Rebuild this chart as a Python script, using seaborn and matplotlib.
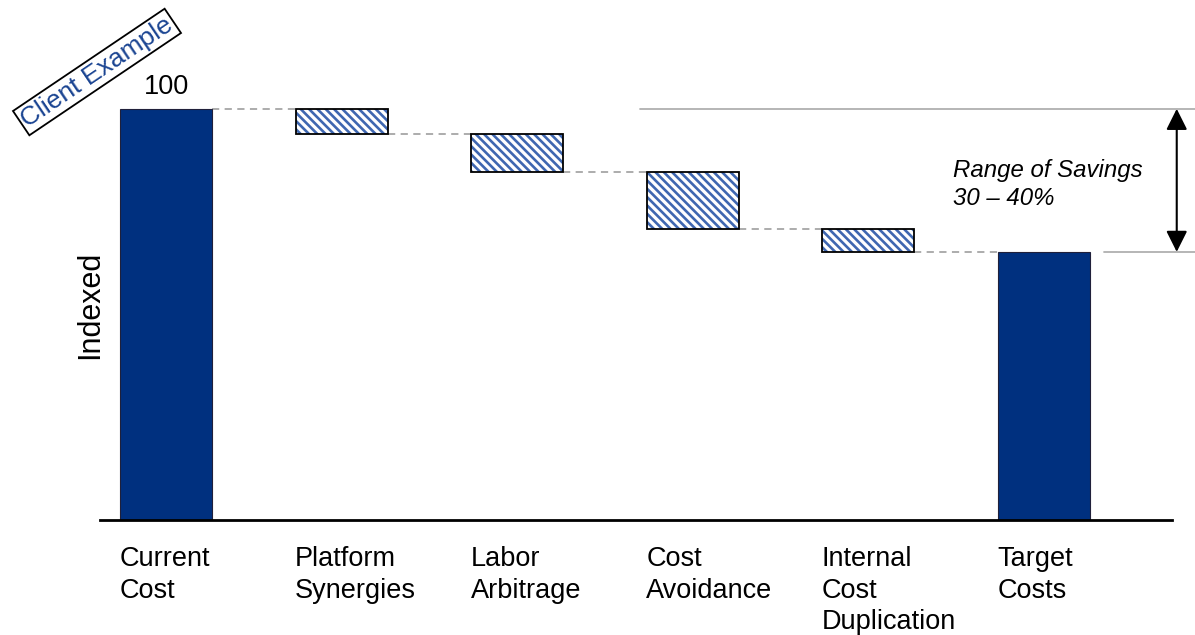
import numpy as np
import pandas as pd
import matplotlib
matplotlib.use("Agg")
import matplotlib.pyplot as plt
import matplotlib.colors as mcolors
import seaborn as sns

# ---- data ----
categories = ["Current\nCost", "Platform\nSynergies", "Labor\nArbitrage",
              "Cost\nAvoidance", "Internal\nCost\nDuplication", "Target\nCosts"]
start_value = 100
savings = [6.1, 9.3, 13.9, 5.5]
start_label = "100"
range_label = "Range of Savings\n30 \u2013 40%"
stamp_label = "Client Example"
y_label = "Indexed"

# ---- derived waterfall geometry ----
levels = [start_value]
for s in savings:
    levels.append(levels[-1] - s)
target = levels[-1]
heights = [start_value] + savings + [target]
bottoms = [0] + levels[1:] + [0]
kinds = ["total"] + ["step"] * len(savings) + ["total"]

navy = "#00307F"
hatch_blue = "#3F67B1"

sns.set_style("white")
plt.rcParams["font.family"] = ["Liberation Sans", "DejaVu Sans"]
plt.rcParams["text.color"] = "black"
plt.rcParams["axes.labelcolor"] = "black"
plt.rcParams["hatch.linewidth"] = 1.9

fig = plt.figure(figsize=(11.95, 6.35), dpi=100)
ax = fig.add_axes([100 / 1195, 1 - 520 / 635, 1072 / 1195, 500 / 635])

df = pd.DataFrame({"category": categories, "height": heights})
sns.barplot(data=df, x="category", y="height", order=categories, color=navy,
            saturation=1, width=0.524, edgecolor="#20203a", linewidth=0.8, ax=ax)

for p, b, k in zip(ax.patches, bottoms, kinds):
    p.set_y(b)
    if k == "step":
        p.set_facecolor("white")
        p.set_edgecolor("black")
        p.set_linewidth(1.3)
        p.set_hatch("\\\\\\\\")
        p._hatch_color = mcolors.to_rgba(hatch_blue)

# dashed connectors
pts = list(ax.patches)
for i in range(len(pts) - 1):
    x0 = pts[i].get_x() + pts[i].get_width()
    x1 = pts[i + 1].get_x()
    ax.plot([x0, x1], [levels[i], levels[i]], color="#a6a6a6", lw=1.3,
            ls=(0, (4, 3)), zorder=0)

ax.set_xlim(-0.376, 5.73)
ax.set_ylim(0, 121.6)

for side in ["left", "top", "right"]:
    ax.spines[side].set_visible(False)
ax.spines["bottom"].set_linewidth(2)
ax.spines["bottom"].set_color("black")
ax.set_yticks([])
ax.set_xticks(np.arange(len(categories)) - 0.265, labels=categories,
              ha="left", fontsize=19.5, linespacing=1.26)
ax.tick_params(axis="x", length=0, pad=19, colors="black")
ax.set_xlabel("")
ax.set_ylabel(y_label, fontsize=22, color="black")
ax.yaxis.set_label_coords(0.005, 0.43)

# value label
ax.text(0, start_value + 2.2, start_label, ha="center", va="bottom", fontsize=19.5)

# range of savings markers
ax.plot([2.70, 5.86], [start_value, start_value], color="#b0b0b0", lw=1.3, clip_on=False)
ax.plot([5.34, 5.86], [target, target], color="#b0b0b0", lw=1.3, clip_on=False)
ax.annotate("", xy=(5.757, target), xytext=(5.757, start_value),
            arrowprops=dict(arrowstyle="<|-|>", color="black", lw=1.5,
                            mutation_scale=32, shrinkA=0, shrinkB=0),
            annotation_clip=False)
ax.text(4.48, 87.8, range_label, ha="left", va="top", fontsize=17.3,
        style="italic", linespacing=1.3)

# stamp
fig.text(97 / 1195, 1 - 72 / 635, stamp_label, rotation=34, ha="center", va="center",
         fontsize=19, color="#1A4492", rotation_mode="anchor",
         bbox=dict(boxstyle="square,pad=0.1", facecolor="white",
                   edgecolor="black", linewidth=1.3))

fig.savefig("out.png", dpi=100)
